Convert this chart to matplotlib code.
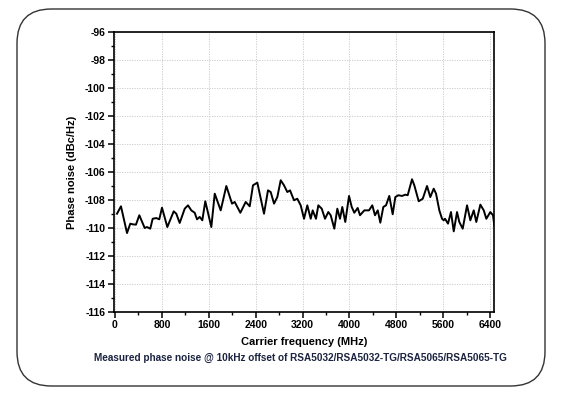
import matplotlib
matplotlib.use("Agg")
import matplotlib.pyplot as plt
from matplotlib.patches import FancyBboxPatch
from matplotlib.ticker import MultipleLocator

plt.rcParams['font.family'] = ['Liberation Sans', 'DejaVu Sans']
plt.rcParams['axes.unicode_minus'] = False

# carrier frequency (MHz) and phase noise (dBc/Hz)
freq = [34, 102, 205, 261, 307, 358, 415, 507, 546, 602, 643, 705, 756, 802,
        893, 1002, 1046, 1104, 1190, 1246, 1302, 1360, 1400, 1446, 1490, 1541,
        1644, 1702, 1804, 1900, 1997, 2043, 2139, 2231, 2299, 2355, 2429, 2475,
        2543, 2611, 2657, 2714, 2770, 2828, 2884, 2941, 2987, 3055, 3111, 3169,
        3226, 3282, 3340, 3374, 3430, 3470, 3528, 3584, 3640, 3681, 3743, 3794,
        3840, 3879, 3930, 3994, 4040, 4084, 4142, 4181, 4255, 4335, 4391, 4437,
        4484, 4528, 4579, 4625, 4681, 4739, 4784, 4835, 4898, 4955, 4995, 5069,
        5108, 5183, 5252, 5325, 5381, 5439, 5479, 5535, 5581, 5610, 5632, 5683,
        5734, 5781, 5837, 5876, 5934, 6008, 6064, 6122, 6166, 6235, 6293, 6337,
        6405, 6451, 6473]
noise = [-108.98, -108.45, -110.36, -109.69, -109.74, -109.76, -109.09, -110.0,
         -109.93, -110.05, -109.34, -109.29, -109.38, -108.55, -109.93, -108.81,
         -108.98, -109.64, -108.62, -108.38, -108.74, -108.91, -109.38, -109.21,
         -109.45, -108.09, -109.93, -107.55, -108.74, -107.0, -108.26, -108.14,
         -108.91, -108.14, -108.45, -106.95, -106.76, -107.66, -108.98, -107.31,
         -107.43, -108.26, -107.79, -106.59, -106.95, -107.43, -107.31, -108.02,
         -107.91, -108.38, -109.34, -108.38, -109.34, -108.74, -109.34, -108.38,
         -108.62, -109.34, -108.86, -109.09, -110.05, -108.62, -109.34, -108.5,
         -109.57, -107.71, -108.5, -108.91, -108.57, -109.09, -108.74, -108.74,
         -108.38, -109.09, -108.74, -109.62, -108.5, -108.38, -107.71, -109.02,
         -107.79, -107.66, -107.71, -107.62, -107.66, -106.52, -106.95, -108.09,
         -107.91, -107.0, -107.79, -107.19, -107.55, -108.74, -109.34, -109.45,
         -109.34, -109.69, -108.86, -110.24, -108.86, -109.57, -110.05, -108.38,
         -109.45, -108.74, -109.57, -108.33, -108.74, -109.34, -108.86, -109.09,
         -109.81]

xticks = [0, 800, 1600, 2400, 3200, 4000, 4800, 5600, 6400]
yticks = list(range(-116, -95, 2))

fig = plt.figure(figsize=(5.72, 3.96), dpi=100)

# rounded frame around the whole figure
frame = FancyBboxPatch((17 / 572, 10 / 396), 528 / 572, 377 / 396,
                       boxstyle="round,pad=0,rounding_size=0.06",
                       transform=fig.transFigure, fill=False,
                       edgecolor='#333333', linewidth=1.0,
                       mutation_aspect=572 / 396)
fig.patches.append(frame)

ax = fig.add_axes([114 / 572, 1 - 312 / 396, 380 / 572, 280 / 396])
ax.plot(freq, noise, color='black', linewidth=1.4)

ax.set_xlim(-17, 6468)
ax.set_ylim(-116, -96)
ax.set_xticks(xticks)
ax.set_yticks(yticks)
ax.xaxis.set_minor_locator(MultipleLocator(400))
ax.yaxis.set_minor_locator(MultipleLocator(1))
ax.tick_params(which='major', direction='out', length=4, width=1.1,
               labelsize=7.5, pad=2)
ax.tick_params(which='minor', direction='out', length=2.5, width=1.0)
for lab in ax.get_xticklabels() + ax.get_yticklabels():
    lab.set_fontweight('bold')
for sp in ax.spines.values():
    sp.set_linewidth(1.2)

ax.grid(True, which='major', color='#c8c8c8', linestyle=(0, (1.5, 1.5)),
        linewidth=0.6)

ax.set_xlabel('Carrier frequency (MHz)', fontsize=8, fontweight='bold',
              labelpad=5)
ax.set_ylabel('Phase noise (dBc/Hz)', fontsize=8, fontweight='bold',
              labelpad=6)

fig.text(300 / 572, 1 - 358 / 396,
         'Measured phase noise @ 10kHz offset of RSA5032/RSA5032-TG/RSA5065/RSA5065-TG',
         ha='center', va='center', fontsize=7.2, fontweight='bold',
         color='#1b2340')

fig.savefig('out.png', dpi=100)
